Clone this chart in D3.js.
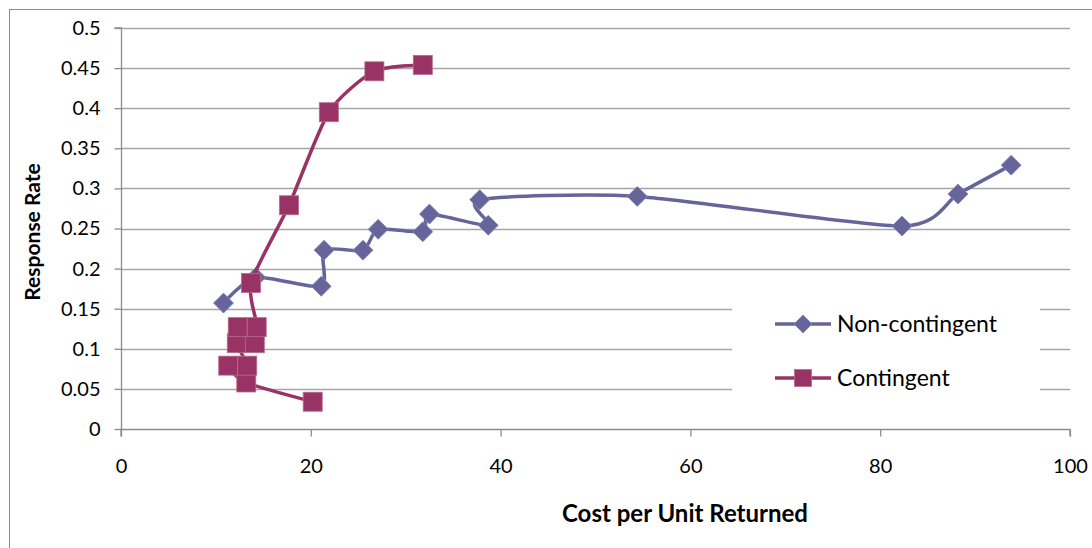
<!DOCTYPE html>
<html><head><meta charset="utf-8">
<script src="https://cdn.jsdelivr.net/npm/d3@7/dist/d3.min.js"></script>
<style>
html,body{margin:0;padding:0;background:#fff;}
svg{display:block;font-family:Lato,"Open Sans",sans-serif;}
</style></head>
<body>
<svg id="chart" width="1092" height="548"></svg>
<script>
// Data
const nonContX = [10.8, 14.2, 21.1, 21.4, 25.5, 27.1, 31.8, 32.5, 38.7, 37.8, 54.4, 82.3, 88.2, 93.8];
const nonContY = [0.157, 0.189, 0.178, 0.223, 0.223, 0.249, 0.246, 0.268, 0.254, 0.286, 0.290, 0.253, 0.293, 0.329];
const contX = [20.2, 13.2, 11.3, 13.3, 12.2, 14.1, 12.3, 14.3, 13.7, 17.7, 21.9, 26.7, 31.8];
const contY = [0.034, 0.058, 0.079, 0.079, 0.107, 0.107, 0.127, 0.127, 0.182, 0.279, 0.395, 0.446, 0.454];
const seriesNames = ["Non-contingent", "Contingent"];
const xTicks = [0, 20, 40, 60, 80, 100];
const yTicks = [0, 0.05, 0.1, 0.15, 0.2, 0.25, 0.3, 0.35, 0.4, 0.45, 0.5];
const xTitle = "Cost per Unit Returned";
const yTitle = "Response Rate";

const colNon = "#65659b";
const colCon = "#993366";

const svg = d3.select("#chart");
const x = d3.scaleLinear().domain([0, 100]).range([121, 1070]);
const y = d3.scaleLinear().domain([0, 0.5]).range([429, 28]);

// outer frame
svg.append("rect").attr("x", 9.5).attr("y", 9.5).attr("width", 1200).attr("height", 700)
  .attr("fill", "none").attr("stroke", "#8c8c8c").attr("stroke-width", 1);

// gridlines
svg.append("g").selectAll("line").data(yTicks.filter(d => d > 0)).join("line")
  .attr("x1", x(0)).attr("x2", x(100))
  .attr("y1", d => Math.round(y(d)) + 0.5).attr("y2", d => Math.round(y(d)) + 0.5)
  .attr("stroke", "#a6a6a6").attr("stroke-width", 1.3);

// axes
const yAxis = d3.axisLeft(y).tickValues(yTicks).tickSize(7).tickPadding(14)
  .tickFormat(d => String(+d.toFixed(2)));
const gy = svg.append("g").attr("transform", `translate(${x(0) + 0.5},0)`).call(yAxis);
const xAxis = d3.axisBottom(x).tickValues(xTicks).tickSize(7).tickPadding(22).tickFormat(d3.format("d"));
const gx = svg.append("g").attr("transform", `translate(0,${Math.round(y(0)) + 0.5})`).call(xAxis);
[gx, gy].forEach(g => {
  g.select(".domain").attr("stroke", "#8c8c8c").attr("stroke-width", 1.3);
  g.selectAll(".tick line").attr("stroke", "#8c8c8c").attr("stroke-width", 1.3);
  g.selectAll(".tick text").attr("font-family", "Lato, sans-serif").attr("font-size", 20).attr("fill", "#000");
});
gy.select(".domain").attr("d", `M-7,${Math.round(y(0.5))}H0V${Math.round(y(0))}`);
gx.select(".domain").attr("d", `M${x(0)},7V0H${x(100)}V7`);

// titles
svg.append("text").attr("x", 685).attr("y", 522).attr("text-anchor", "middle")
  .attr("font-size", 24).attr("font-weight", "bold").text(xTitle);
svg.append("text").attr("transform", "translate(40,232) rotate(-90)").attr("text-anchor", "middle")
  .attr("font-size", 21).attr("font-weight", "bold").text(yTitle);

// legend background (hides gridlines)
svg.append("rect").attr("x", 732).attr("y", 292).attr("width", 308).attr("height", 118).attr("fill", "#fff");

const line = d3.line().x(d => x(d[0])).y(d => y(d[1])).curve(d3.curveCardinal.tension(0.3));
const nonPts = nonContX.map((v, i) => [v, nonContY[i]]);
const conPts = contX.map((v, i) => [v, contY[i]]);

function diamond(g, cx, cy, s, c) {
  g.append("path").attr("d", `M${cx},${cy - s}L${cx + s},${cy}L${cx},${cy + s}L${cx - s},${cy}Z`)
    .attr("fill", c).attr("stroke", "#8585b5").attr("stroke-width", 0.8);
}
function square(g, cx, cy, s, c) {
  g.append("rect").attr("x", cx - s).attr("y", cy - s).attr("width", 2 * s).attr("height", 2 * s)
    .attr("fill", c).attr("stroke", "#b56b8c").attr("stroke-width", 0.8);
}

// non-contingent series
const gN = svg.append("g");
gN.append("path").attr("d", line(nonPts)).attr("fill", "none").attr("stroke", colNon).attr("stroke-width", 3.5);
nonPts.forEach(p => diamond(gN, x(p[0]), y(p[1]), 10, colNon));

// contingent series
const gC = svg.append("g");
gC.append("path").attr("d", line(conPts)).attr("fill", "none").attr("stroke", colCon).attr("stroke-width", 3.5);
conPts.forEach(p => square(gC, x(p[0]), y(p[1]), 9.5, colCon));

// legend
const lg = svg.append("g");
[[colNon, 324, "d"], [colCon, 378, "s"]].forEach((r, i) => {
  lg.append("line").attr("x1", 775).attr("x2", 831).attr("y1", r[1]).attr("y2", r[1])
    .attr("stroke", r[0]).attr("stroke-width", 3.5);
  if (r[2] === "d") diamond(lg, 803, r[1], 9, r[0]); else square(lg, 803, r[1], 8.5, r[0]);
  lg.append("text").attr("x", 837).attr("y", r[1] + 8).attr("font-size", 23).text(seriesNames[i]);
});
</script>
</body></html>
